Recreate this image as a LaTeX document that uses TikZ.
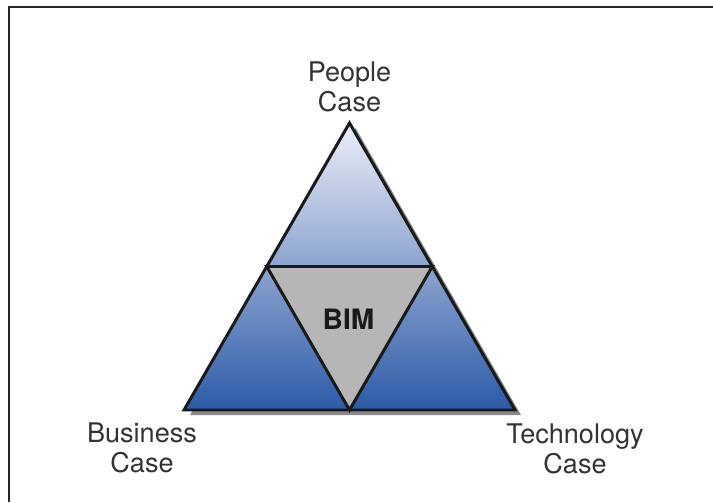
\documentclass[tikz,border=0pt]{standalone}
\usepackage{fontspec}
\setmainfont{TeX Gyre Heros}
\usepackage{tikz}
\usetikzlibrary{calc,positioning}

\definecolor{apexblue}{RGB}{236,238,248}
\definecolor{midblue}{RGB}{140,158,210}
\definecolor{baseblue}{RGB}{44,90,168}
\definecolor{bimgray}{RGB}{182,182,182}
\definecolor{shadowgray}{RGB}{138,138,138}
\definecolor{textgray}{RGB}{51,51,51}

\begin{document}
\begin{tikzpicture}[
	scale = 1,
    edge/.style = {
      draw = black!90,
      line width = 1.7pt,
      line join = miter},
    caselabel/.style = {
      align = center,
      inner sep = 0pt,
      text = textgray,
      font = \fontsize{15.4}{17.1}\selectfont}
      ]
  \useasboundingbox (0,0) rectangle (14.26,10.04);

  % Frame round the picture (left and top only)
  \draw[line width=1.1pt, black!85] (0.18,0) -- (0.18,9.90) -- (14.26,9.90);

  % Corners of the big triangle
  \coordinate (BL) at (3.68,1.84);
  \coordinate (BR) at (10.30,1.84);
  \coordinate (A) at (6.99,7.58);
  % Midpoints of its sides
  \coordinate (ML) at ($(A)!0.5!(BL)$);
  \coordinate (MR) at ($(A)!0.5!(BR)$);
  \coordinate (MB) at ($(BL)!0.5!(BR)$);

  % Shadow
  \fill[shadowgray] ($(A)+(0.12,-0.10)$) -- ($(BR)+(0.12,-0.10)$) -- ($(BL)+(0.12,-0.10)$) -- cycle;

  % Blue shading and grey centre
  \shade[top color=apexblue, middle color=midblue, bottom color=baseblue] (A) -- (BR) -- (BL) -- cycle;
  \fill[bimgray] (ML) -- (MR) -- (MB) -- cycle;

  % Outlines
  \draw[edge] (A) -- (BR) -- (BL) -- cycle;
  \draw[edge] (ML) -- (MR) -- (MB) -- cycle;

  \node[font=\fontsize{16}{18}\bfseries, text=black!90] (bim) at (6.97,3.65) {BIM};

  % Labels at the corners
  \node[caselabel, above=0.22 of A] (people) {People\\Case};
  \node[caselabel, anchor=north] (business) at ($(BL)+(-0.84,-0.24)$) {Business\\Case};
  \node[caselabel, anchor=north] (technology) at ($(BR)+(1.20,-0.26)$) {Technology\\Case};

\end{tikzpicture}
\end{document}
